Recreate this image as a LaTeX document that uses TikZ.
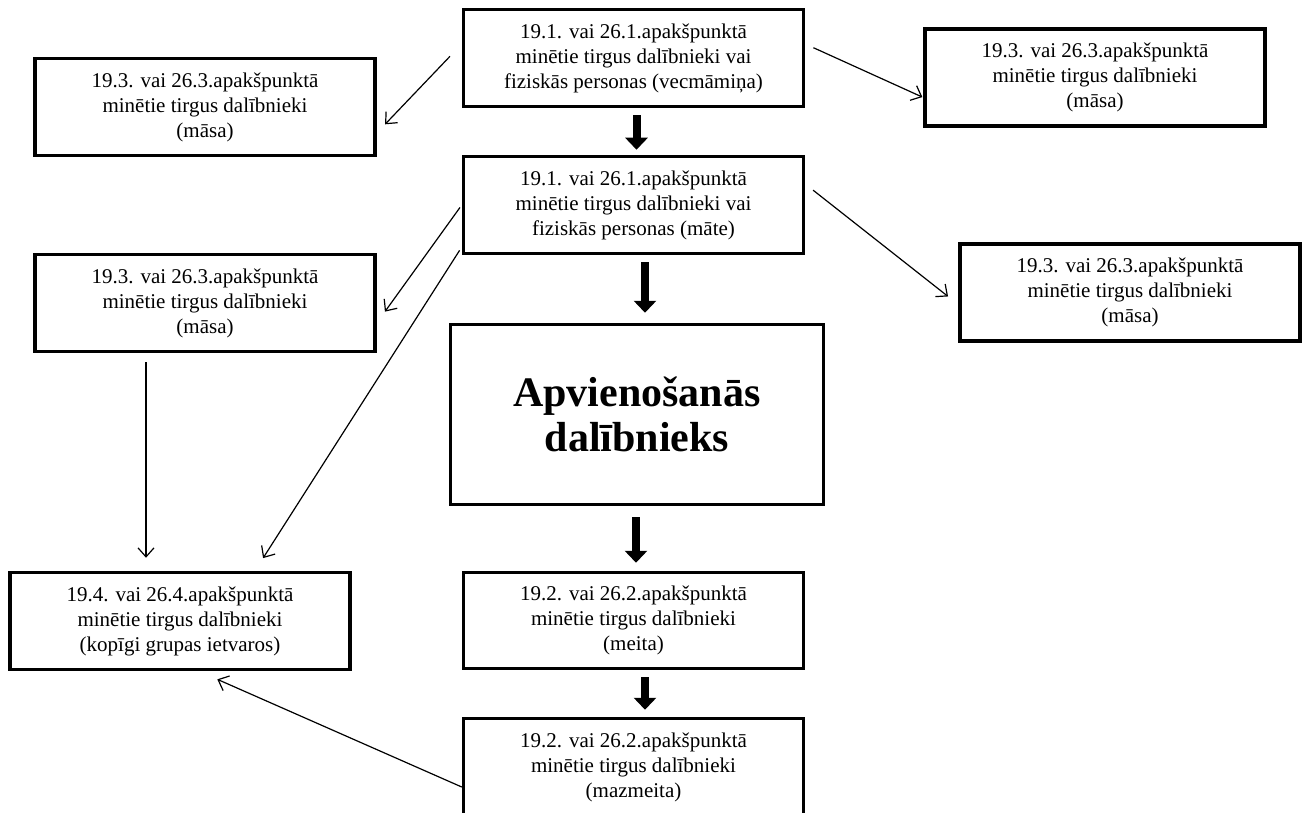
\documentclass[tikz,border=0pt]{standalone}
\usepackage{fontspec}
\setmainfont{Liberation Serif}
\usetikzlibrary{arrows.meta}

\begin{document}
\begin{tikzpicture}[x=1pt, y=-1pt,
  box/.style={draw, line width=3.5pt, minimum width=340pt, minimum height=97pt, inner sep=0pt, align=center, font=\fontsize{21}{25}\selectfont},
  bigbox/.style={box, minimum width=373pt, minimum height=180pt, font=\fontsize{42}{45}\selectfont\bfseries},
  flow/.style={line width=8pt, -{Triangle[length=12pt,width=22pt]}},
  link/.style={line width=1.2pt, -{Straight Barb[length=9pt,width=16pt]}}]
\useasboundingbox (0, 0) rectangle (1306, 813);
\clip (0, 0) rectangle (1306, 813);

% middle column
\node[box] (gran) at (633.5, 58) {19.1. vai 26.1.apakšpunktā\\minētie tirgus dalībnieki vai\\fiziskās personas (vecmāmiņa)};
\node[box] (mate) at (633.5, 205) {19.1. vai 26.1.apakšpunktā\\minētie tirgus dalībnieki vai\\fiziskās personas (māte)};
\node[bigbox] (apv) at (637, 414.5) {Apvienošanās\\dalībnieks};
\node[box, minimum height=96pt] (meita) at (633.5, 620.5) {19.2. vai 26.2.apakšpunktā\\minētie tirgus dalībnieki\\(meita)};
\node[box] (mazmeita) at (633.5, 767) {19.2. vai 26.2.apakšpunktā\\minētie tirgus dalībnieki\\(mazmeita)};

% left column
\node[box] (masaA) at (205, 107) {19.3. vai 26.3.apakšpunktā\\minētie tirgus dalībnieki\\(māsa)};
\node[box] (masaB) at (205, 303) {19.3. vai 26.3.apakšpunktā\\minētie tirgus dalībnieki\\(māsa)};
\node[box] (kopigi) at (180, 621) {19.4. vai 26.4.apakšpunktā\\minētie tirgus dalībnieki\\(kopīgi grupas ietvaros)};

% right column
\node[box] (masaC) at (1095, 77.5) {19.3. vai 26.3.apakšpunktā\\minētie tirgus dalībnieki\\(māsa)};
\node[box] (masaD) at (1130, 292.5) {19.3. vai 26.3.apakšpunktā\\minētie tirgus dalībnieki\\(māsa)};

% thick arrows
\draw[flow, shorten <=7pt, shorten >=5pt] ([xshift=3]gran.south) -- ([xshift=3]gran.south |- mate.north);
\draw[flow, shorten <=7pt, shorten >=10pt] ([xshift=11.5]mate.south) -- ([xshift=11.5]mate.south |- apv.north);
\draw[flow, shorten <=11pt, shorten >=8pt] ([xshift=-1]apv.south) -- ([xshift=-1]apv.south |- meita.north);
\draw[flow, shorten <=7pt, shorten >=7pt] ([xshift=11.5]meita.south) -- ([xshift=11.5]meita.south |- mazmeita.north);

% thin arrows
\draw[link, shorten <=17pt, shorten >=12pt] ([yshift=14]gran.west) -- ([yshift=-26]masaA.east);
\draw[link, shorten <=3pt, shorten >=14pt] (mate.west) -- ([yshift=-20]masaB.east);
\draw[link, shorten <=4pt, shorten >=15pt] ([yshift=-42]mate.west) -- ([xshift=75]kopigi.north);
\draw[link, shorten <=9pt, shorten >=13pt] ([xshift=-59]masaB.south) -- ([xshift=-34]kopigi.north);
\draw[link, shorten >=20pt] ([yshift=-20]mazmeita.west) -- ([xshift=19]kopigi.south);
\draw[link, shorten <=9pt, shorten >=1pt] ([yshift=14]gran.east) -- ([yshift=-20]masaC.west);
\draw[link, shorten <=10pt, shorten >=13pt] ([yshift=21]mate.east) -- ([yshift=-12]masaD.west);
\end{tikzpicture}
\end{document}
